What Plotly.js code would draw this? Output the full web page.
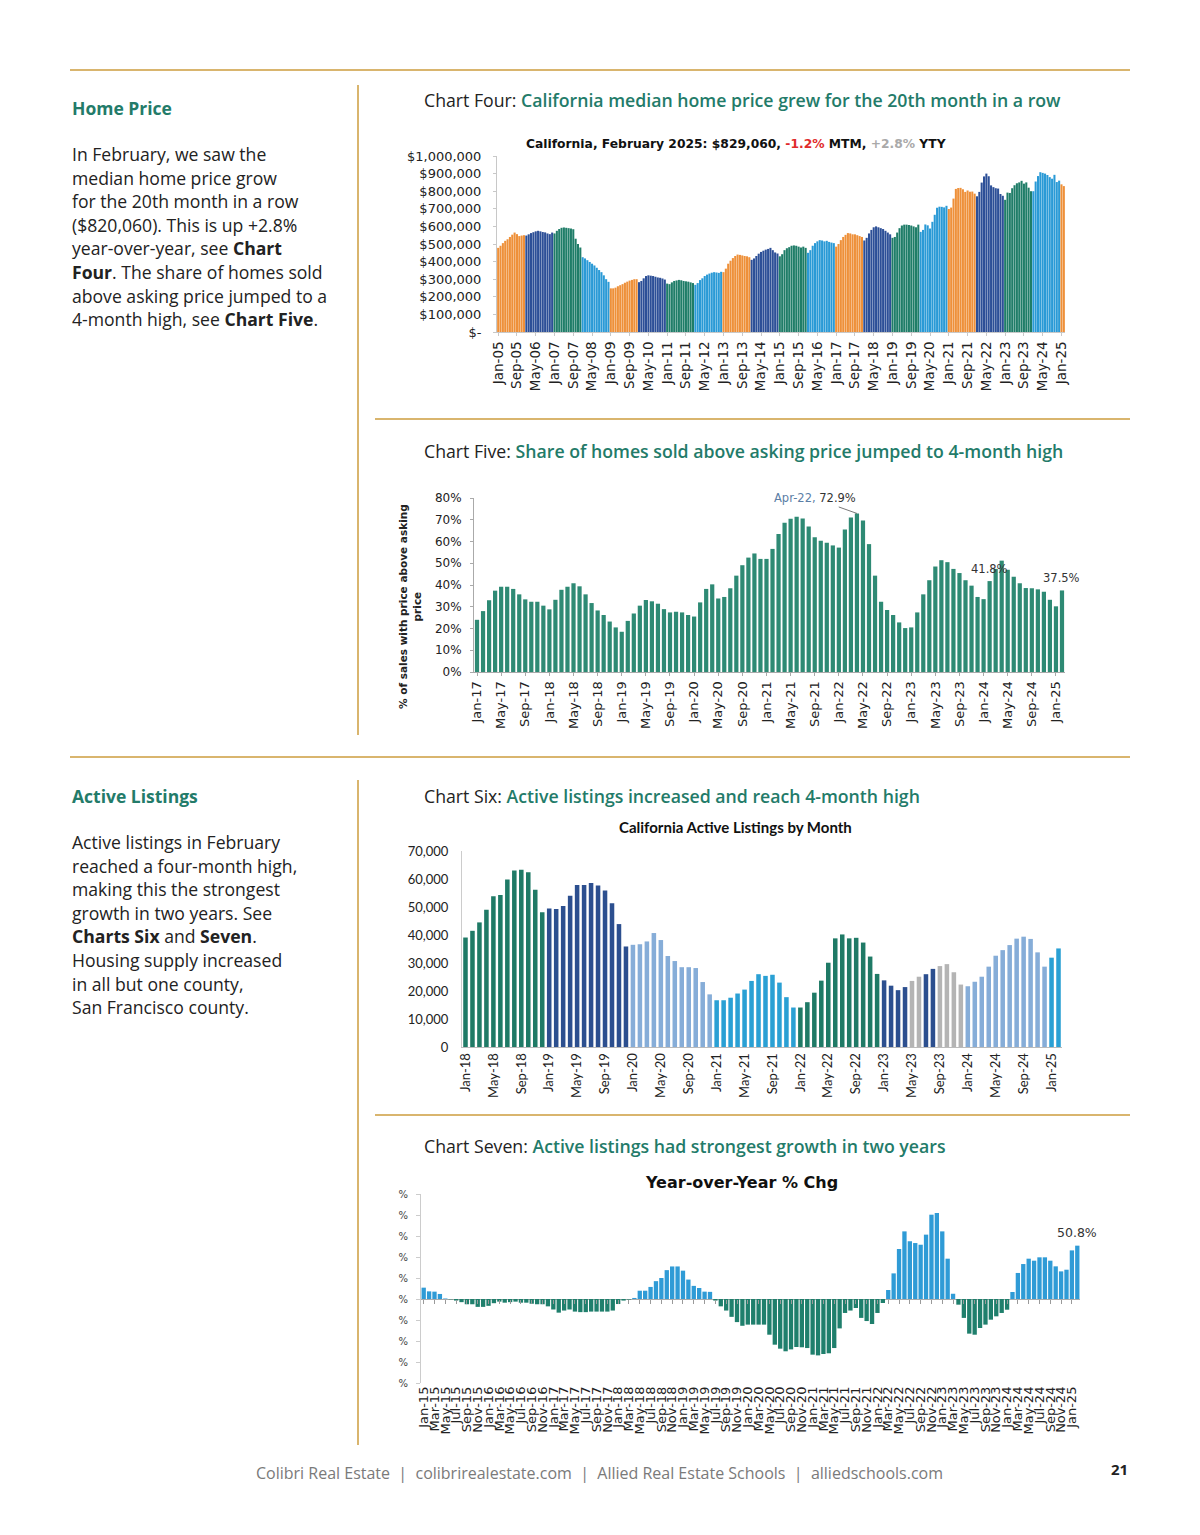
<!DOCTYPE html>
<html><head><meta charset="utf-8">
<script src="https://cdn.plot.ly/plotly-3.0.1.min.js"></script>
<style>
body{margin:0;width:1200px;height:1535px;position:relative;background:#fff;font-family:'Open Sans',sans-serif;overflow:hidden;}
.hl{position:absolute;height:2px;background:#d9b56e;}
.vl{position:absolute;width:2px;background:#d9b56e;}
.sec{position:absolute;left:72px;font-weight:700;color:#237b69;font-size:17.5px;line-height:24px;white-space:nowrap;}
.para{position:absolute;left:72px;font-size:17.6px;line-height:23.6px;color:#222;white-space:nowrap;}
.ct{position:absolute;left:424px;font-size:17.7px;line-height:24px;color:#222;white-space:nowrap;font-weight:500;}
.ct span{color:#237b69;font-weight:600;}
.chart{position:absolute;}
.foot{position:absolute;left:256px;top:1461px;font-size:16px;line-height:24px;color:#7a7a7a;white-space:nowrap;}
.pg{position:absolute;left:1111px;top:1458px;font-size:15px;line-height:22px;color:#222;font-weight:700;}
</style></head><body>

<div class="hl" style="left:70px;top:69px;width:1060px;"></div>
<div class="vl" style="left:357px;top:85px;height:650px;"></div>
<div class="hl" style="left:375px;top:418px;width:755px;"></div>
<div class="hl" style="left:70px;top:756px;width:1060px;"></div>
<div class="vl" style="left:357px;top:780px;height:665px;"></div>
<div class="hl" style="left:375px;top:1114px;width:755px;"></div>

<div class="sec" style="top:96px;">Home Price</div>
<div class="para" style="top:143px;">In February, we saw the<br>median home price grow<br>for the 20th month in a row<br>($820,060). This is up +2.8%<br>year-over-year, see <b>Chart</b><br><b>Four</b>. The share of homes sold<br>above asking price jumped to a<br>4-month high, see <b>Chart Five</b>.</div>

<div class="sec" style="top:784px;">Active Listings</div>
<div class="para" style="top:831px;">Active listings in February<br>reached a four-month high,<br>making this the strongest<br>growth in two years. See<br><b>Charts Six</b> and <b>Seven</b>.<br>Housing supply increased<br>in all but one county,<br>San Francisco county.</div>

<div class="ct" style="top:88px;">Chart Four: <span>California median home price grew for the 20th month in a row</span></div>
<div class="ct" style="top:439px;">Chart Five: <span>Share of homes sold above asking price jumped to 4-month high</span></div>
<div class="ct" style="top:784px;">Chart Six: <span>Active listings increased and reach 4-month high</span></div>
<div class="ct" style="top:1134px;">Chart Seven: <span>Active listings had strongest growth in two years</span></div>

<div id="c4" class="chart" style="left:385px;top:130px;width:690px;height:275px;"></div>
<div id="c5" class="chart" style="left:390px;top:480px;width:700px;height:250px;"></div>
<div id="c6" class="chart" style="left:390px;top:812px;width:690px;height:290px;"></div>
<div id="c7" class="chart" style="left:390px;top:1160px;width:710px;height:285px;"></div>

<div class="foot">Colibri Real Estate &nbsp;|&nbsp; colibrirealestate.com &nbsp;|&nbsp; Allied Real Estate Schools &nbsp;|&nbsp; alliedschools.com</div>
<div class="pg">21</div>

<script>
// ---------- shared labels ----------
const MONTHS = ['Jan','Feb','Mar','Apr','May','Jun','Jul','Aug','Sep','Oct','Nov','Dec'];
function monthLabel(startYear, i){ const y = startYear + Math.floor(i/12); return MONTHS[i%12] + '-' + String(y%100).padStart(2,'0'); }

// ---------- Chart Four: CA median home price ($ thousands), Jan-05 .. Feb-25 ----------
const price2005 = [478, 490, 505, 518, 527, 540, 553, 565, 556, 545, 548, 550];
const price2006 = [548, 555, 562, 567, 572, 575, 572, 568, 566, 560, 556, 565];
const price2007 = [560, 575, 585, 592, 594, 592, 590, 588, 584, 530, 500, 480];
const price2008 = [425, 418, 408, 398, 388, 378, 365, 352, 340, 322, 300, 285];
const price2009 = [248, 248, 252, 260, 266, 272, 280, 286, 292, 296, 300, 300];
const price2010 = [283, 290, 305, 318, 322, 320, 318, 314, 310, 308, 304, 298];
const price2011 = [275, 272, 282, 290, 293, 296, 294, 290, 288, 286, 282, 278];
const price2012 = [268, 278, 295, 305, 318, 326, 332, 337, 340, 338, 336, 342];
const price2013 = [340, 360, 388, 405, 420, 432, 440, 438, 435, 432, 430, 425];
const price2014 = [410, 418, 432, 445, 455, 462, 468, 472, 478, 465, 452, 446];
const price2015 = [430, 442, 465, 476, 482, 490, 492, 490, 485, 480, 485, 478];
const price2016 = [450, 465, 490, 505, 515, 522, 520, 515, 518, 512, 508, 505];
const price2017 = [485, 500, 522, 540, 552, 562, 560, 555, 555, 550, 545, 540];
const price2018 = [520, 535, 560, 580, 595, 600, 595, 590, 585, 575, 565, 555];
const price2019 = [535, 540, 565, 590, 605, 610, 610, 608, 605, 600, 595, 610];
const price2020 = [569, 580, 611, 606, 588, 626, 666, 706, 712, 711, 708, 717];
const price2021 = [699, 707, 758, 813, 818, 819, 811, 796, 804, 797, 798, 786];
const price2022 = [771, 796, 849, 884, 900, 885, 833, 823, 817, 815, 784, 774];
const price2023 = [751, 792, 790, 817, 834, 845, 850, 859, 843, 850, 820, 800];
const price2024 = [800, 855, 886, 908, 904, 900, 892, 880, 871, 893, 852, 860];
const price2025 = [839, 829];
const priceYears = [price2005,price2006,price2007,price2008,price2009,price2010,price2011,price2012,price2013,price2014,
  price2015,price2016,price2017,price2018,price2019,price2020,price2021,price2022,price2023,price2024,price2025];
const priceYearColors = ['#ee9039','#2c4f97','#1f7d68','#2a9ad6'];
const priceTickVals = [0,100000,200000,300000,400000,500000,600000,700000,800000,900000,1000000];
const priceTickText = ['$-','$100,000','$200,000','$300,000','$400,000','$500,000','$600,000','$700,000','$800,000','$900,000','$1,000,000'];

// ---------- Chart Five: % of sales above asking, Jan-17 .. Feb-25 ----------
const ask2017 = [24, 28, 33, 37.4, 39.2, 39.2, 38.2, 35.7, 33.4, 32.3, 32.3, 30.5];
const ask2018 = [28.8, 33.2, 37.8, 39.2, 40.8, 39.4, 35.7, 31.7, 28.3, 26.2, 23.2, 20.5];
const ask2019 = [18.5, 23.5, 26.9, 30.5, 33.1, 32.5, 31.4, 28.9, 27.4, 27.7, 27.4, 26.2];
const ask2020 = [25.5, 32, 38.2, 40.3, 33.8, 34.5, 38.5, 44.3, 49.1, 52.6, 54.5, 52];
const ask2021 = [52, 56.6, 63.5, 68.6, 70.5, 71.4, 70.6, 66.9, 62, 60.3, 59.4, 58.2];
const ask2022 = [57.2, 65.5, 71, 72.9, 69.7, 58.8, 44.3, 32.3, 28.5, 26.2, 22.8, 20.2];
const ask2023 = [20.5, 27.4, 35.7, 42.2, 48.5, 51.4, 50.5, 47.4, 45.5, 42.2, 39.7, 34.5];
const ask2024 = [33.5, 41.8, 47.4, 51.2, 47, 43.8, 40.8, 38.6, 38.5, 38, 36.9, 33.2];
const ask2025 = [30.2, 37.5];
const askYears = [ask2017,ask2018,ask2019,ask2020,ask2021,ask2022,ask2023,ask2024,ask2025];

// ---------- Chart Six: CA active listings (thousands), Jan-18 .. Feb-25 ----------
const list2018 = [39.1, 41.5, 44.5, 49, 53.8, 54.3, 59.8, 63, 63.3, 62.4, 56.2, 48.1];
const list2019 = [49.5, 49.3, 50.4, 54, 57.9, 57.9, 58.6, 57.7, 55.9, 51.3, 43.9, 35.9];
const list2020 = [36.5, 36.7, 37.7, 40.7, 38.2, 32.5, 30.7, 28.5, 28.5, 28.2, 23.2, 18.8];
const list2021 = [16.7, 16.7, 17.6, 19.1, 20.5, 23.6, 26, 25.4, 25.8, 23, 17.8, 14.1];
const list2022 = [14.1, 16, 19.4, 23.7, 30.1, 38.8, 40.2, 38.8, 39, 37.3, 32.3, 26.1];
const list2023 = [23.8, 21.9, 20.3, 21.4, 23.6, 25.1, 26, 27.9, 28.9, 29.6, 26.7, 22.3];
const list2024 = [21.7, 23.3, 25.1, 28.7, 32.6, 34.6, 36.4, 38.7, 39.4, 38.6, 33.8, 28.7];
const list2025 = [31.9, 35.2];
const listYears = [list2018,list2019,list2020,list2021,list2022,list2023,list2024,list2025];
// colour group of every bar, year by year (G green, D dark blue, P pale blue, C blue, S grey)
const listGroups2018 = 'GGGGGGGGGGGG', listGroups2019 = 'DDDDDDDDDDDD', listGroups2020 = 'PPPPPPPPPPPP',
      listGroups2021 = 'CCCCCCCCCCCC', listGroups2022 = 'GGGGGGGGGGGG', listGroups2023 = 'DDDDSSDDSSSS',
      listGroups2024 = 'PPPPPPPPPPPP', listGroups2025 = 'CC';
const listGroupColors = {G:'#1f7a66', D:'#2c4f8f', P:'#86add8', C:'#2aa0d4', S:'#b4b4b4'};

// ---------- Chart Seven: active listings YoY % change, Jan-15 .. Feb-25 ----------
const yoy2015 = [10.8, 7.3, 7, 4.8, 0.5, -0.3, -1.5, -3, -5, -5, -7.5, -7.5];
const yoy2016 = [-6.5, -4, -2.5, -3.5, -3, -2.5, -3.5, -3.5, -4.5, -5, -5, -7];
const yoy2017 = [-10, -13, -11, -10, -12, -12.5, -12.5, -12, -12, -12, -12, -11];
const yoy2018 = [-4.8, -1.5, -0.5, 1, 7.9, 7.9, 11.5, 17, 20, 27.5, 31, 31];
const yoy2019 = [27, 18.5, 12.5, 10.5, 7, 6.8, -1.5, -7, -11, -17, -22, -25.5];
const yoy2020 = [-24.4, -24.4, -24.4, -24.4, -34, -43.5, -47.3, -49.8, -48, -45.7, -46, -46.7];
const yoy2021 = [-53, -53.7, -52.4, -51.7, -46.7, -28, -13.3, -11, -8.6, -18, -21, -23.8];
const yoy2022 = [-13.3, -3.8, 8.6, 24.4, 47.6, 64.4, 55, 53.3, 51.7, 61.3, 80.3, 81.9];
const yoy2023 = [64.4, 38.4, 5, -5.4, -18, -33, -34, -27.6, -24.4, -19.7, -16.5, -13.3];
const yoy2024 = [-10.2, 6.7, 24.8, 33.3, 38.4, 36.5, 39.7, 39.7, 36.5, 31.1, 26.3, 27.9];
const yoy2025 = [46.3, 50.8];
const yoyYears = [yoy2015,yoy2016,yoy2017,yoy2018,yoy2019,yoy2020,yoy2021,yoy2022,yoy2023,yoy2024,yoy2025];
const yoyTickVals = [-80,-60,-40,-20,0,20,40,60,80,100];

const cfg = {staticPlot:true, displayModeBar:false};
const blank = 'rgba(0,0,0,0)';

// ===== Chart Four =====
(function(){
  const y=[], c=[];
  priceYears.forEach((arr,yi)=>arr.forEach(v=>{ y.push(v*1000); c.push(priceYearColors[yi%4]); }));
  const x = y.map((_,i)=>i);
  const tv=[], tt=[];
  for(let i=0;i<y.length;i+=8){ tv.push(i); tt.push(monthLabel(2005,i)); }
  Plotly.newPlot('c4',[{type:'bar',x:x,y:y,marker:{color:c,line:{width:0}},hoverinfo:'none'}],{
    width:690,height:275,margin:{l:112,r:10,t:26,b:73},paper_bgcolor:blank,plot_bgcolor:blank,bargap:0.12,showlegend:false,
    xaxis:{range:[-0.5,y.length-0.5],tickmode:'array',tickvals:tv,ticktext:tt,tickangle:-90,
      tickfont:{family:'DejaVu Sans',size:13.5,color:'#222'},showgrid:false,zeroline:false,showline:true,linecolor:'#c8c8c8',
      ticks:'outside',ticklen:3,tickcolor:'#c8c8c8'},
    yaxis:{range:[0,1000000],tickmode:'array',tickvals:priceTickVals,ticktext:priceTickText,
      tickfont:{family:'DejaVu Sans',size:13,color:'#222'},showgrid:false,zeroline:false,showline:true,linecolor:'#c8c8c8',
      ticks:'outside',ticklen:3,tickcolor:'#c8c8c8',ticklabelstandoff:9},
    annotations:[{xref:'paper',yref:'paper',x:0.4225,y:1.068,xanchor:'center',yanchor:'middle',showarrow:false,
      font:{family:'DejaVu Sans',size:12.3,color:'#111'},
      text:'<b>California, February 2025: $829,060, <span style="color:#e02b2b">-1.2%</span> MTM, <span style="color:#a9a9a9">+2.8%</span> YTY</b>'}]
  },cfg);
})();

// ===== Chart Five =====
(function(){
  const y=[]; askYears.forEach(a=>a.forEach(v=>y.push(v)));
  const x=y.map((_,i)=>i);
  const tv=[], tt=[];
  for(let i=0;i<y.length;i+=4){ tv.push(i); tt.push(monthLabel(2017,i)); }
  const iApr22 = 5*12+3, iFeb24 = 7*12+1, iLast = y.length-1;
  Plotly.newPlot('c5',[{type:'bar',x:x,y:y,marker:{color:'#2e8a74',line:{width:0}},hoverinfo:'none'}],{
    width:700,height:250,margin:{l:84,r:25,t:18,b:58},paper_bgcolor:blank,plot_bgcolor:blank,bargap:0.3,showlegend:false,
    xaxis:{range:[-0.5,y.length-0.5],tickmode:'array',tickvals:tv,ticktext:tt,tickangle:-90,
      tickfont:{family:'DejaVu Sans',size:13,color:'#222'},showgrid:false,zeroline:false,showline:true,linecolor:'#aaa',
      ticks:'outside',ticklen:3,tickcolor:'#aaa'},
    yaxis:{range:[0,80],dtick:10,ticksuffix:'%',tickfont:{family:'DejaVu Sans',size:12,color:'#222'},
      showgrid:false,zeroline:false,showline:true,linecolor:'#aaa',ticks:'outside',ticklen:3,tickcolor:'#aaa',ticklabelstandoff:6},
    annotations:[
      {xref:'paper',yref:'paper',x:-0.108,y:0.375,xanchor:'center',yanchor:'middle',textangle:-90,showarrow:false,
        text:'<b>% of sales with price above asking<br>price</b>',font:{family:'DejaVu Sans',size:10.5,color:'#222'}},
      {x:iApr22,y:y[iApr22],xref:'x',yref:'y',ax:-42,ay:-15,showarrow:true,arrowhead:0,arrowwidth:0.8,arrowcolor:'#555',
        text:'<span style="color:#5b7ea6">Apr-22,</span> 72.9%',font:{family:'DejaVu Sans',size:11.5,color:'#333'}},
      {x:iFeb24,y:y[iFeb24],xref:'x',yref:'y',yanchor:'bottom',yshift:3,showarrow:false,text:'41.8%',
        font:{family:'DejaVu Sans',size:11.5,color:'#333'}},
      {x:iLast,y:y[iLast],xref:'x',yref:'y',yanchor:'bottom',yshift:3,showarrow:false,text:'37.5%',
        font:{family:'DejaVu Sans',size:11.5,color:'#333'}}
    ]
  },cfg);
})();

// ===== Chart Six =====
(function(){
  const groups = [listGroups2018,listGroups2019,listGroups2020,listGroups2021,listGroups2022,listGroups2023,listGroups2024,listGroups2025].join('');
  const y=[]; listYears.forEach(a=>a.forEach(v=>y.push(v*1000)));
  const c=y.map((_,i)=>listGroupColors[groups[i]]);
  const x=y.map((_,i)=>i);
  const tv=[], tt=[];
  for(let i=0;i<y.length;i+=4){ tv.push(i); tt.push(monthLabel(2018,i)); }
  Plotly.newPlot('c6',[{type:'bar',x:x,y:y,marker:{color:c,line:{width:0}},hoverinfo:'none'}],{
    width:690,height:290,margin:{l:72,r:18,t:39,b:55},paper_bgcolor:blank,plot_bgcolor:blank,bargap:0.35,showlegend:false,
    xaxis:{range:[-0.5,y.length-0.5],tickmode:'array',tickvals:tv,ticktext:tt,tickangle:-90,
      tickfont:{family:'Lato',size:13,color:'#222'},showgrid:false,zeroline:false,showline:true,linecolor:'#bbb',ticks:''},
    yaxis:{range:[0,70000],dtick:10000,tickformat:',d',tickfont:{family:'Lato',size:13,color:'#222'},
      showgrid:false,zeroline:false,showline:true,linecolor:'#ccc',ticks:'',ticklabelstandoff:10},
    annotations:[{xref:'paper',yref:'paper',x:0.455,y:1.122,xanchor:'center',yanchor:'middle',showarrow:false,
      text:'<b>California Active Listings by Month</b>',font:{family:'Lato',size:15,color:'#111'}}]
  },cfg);
})();

// ===== Chart Seven =====
(function(){
  const y=[]; yoyYears.forEach(a=>a.forEach(v=>y.push(v)));
  const c=y.map(v=>v>=0?'#2f9bd6':'#1f7f6c');
  const x=y.map((_,i)=>i);
  const tv=[], tt=[];
  for(let i=0;i<y.length;i+=2){ tv.push(i); tt.push(monthLabel(2015,i)); }
  const ymin=-80, ymax=100;
  Plotly.newPlot('c7',[
    {type:'bar',x:x,y:y,marker:{color:c,line:{width:0}},hoverinfo:'none'},
    {type:'scatter',x:[0],y:[0],xaxis:'x2',mode:'markers',marker:{opacity:0},hoverinfo:'none'}
  ],{
    width:710,height:285,margin:{l:31,r:20,t:34,b:62},paper_bgcolor:blank,plot_bgcolor:blank,bargap:0.2,showlegend:false,
    xaxis:{range:[-0.5,y.length-0.5],tickmode:'array',tickvals:tv,ticktext:tt,tickangle:-90,
      tickfont:{family:'DejaVu Sans',size:13,color:'#222'},showgrid:false,zeroline:false,showline:false,ticks:''},
    xaxis2:{overlaying:'x',anchor:'free',position:(0-ymin)/(ymax-ymin),range:[-0.5,y.length-0.5],tickmode:'array',tickvals:tv,
      showticklabels:false,ticks:'outside',ticklen:4,tickcolor:'#9a9a9a',showgrid:false,zeroline:false,showline:false},
    yaxis:{range:[ymin,ymax],tickmode:'array',tickvals:yoyTickVals,ticktext:yoyTickVals.map(()=>'%'),
      tickfont:{family:'DejaVu Sans',size:10,color:'#444'},showgrid:false,zeroline:true,zerolinecolor:'#aaa',zerolinewidth:1,
      showline:true,linecolor:'#ccc',ticks:'outside',ticklen:4,tickcolor:'#ccc',ticklabelstandoff:6},
    annotations:[
      {xref:'paper',yref:'paper',x:0.487,y:1.063,xanchor:'center',yanchor:'middle',showarrow:false,
        text:'<b>Year-over-Year % Chg</b>',font:{family:'DejaVu Sans',size:16,color:'#111'}},
      {x:y.length-1,y:y[y.length-1],xref:'x',yref:'y',yanchor:'bottom',yshift:4,showarrow:false,text:'50.8%',
        font:{family:'DejaVu Sans',size:12.5,color:'#333'}}
    ]
  },cfg);
})();
</script>
</body></html>
